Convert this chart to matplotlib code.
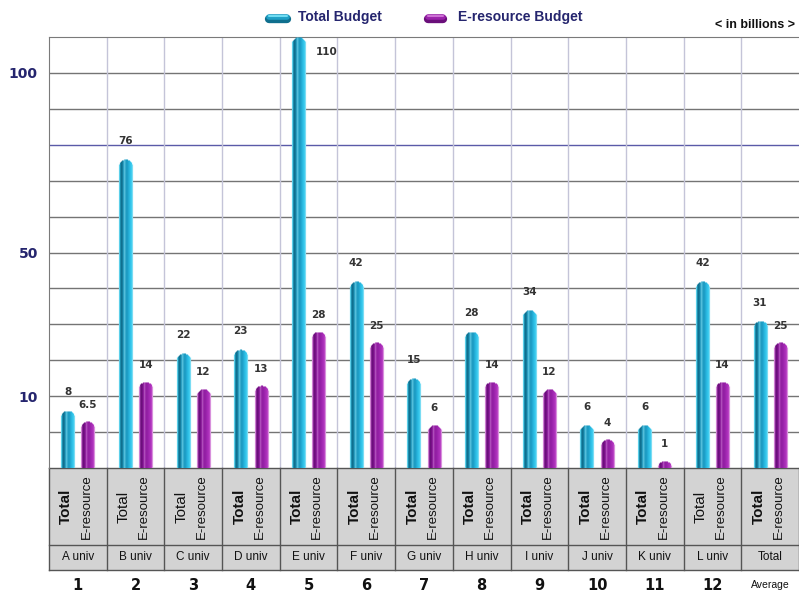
import numpy as np
import matplotlib
matplotlib.use('Agg')
import matplotlib.pyplot as plt
from matplotlib.transforms import ScaledTranslation, blended_transform_factory
from matplotlib.patches import Rectangle
from matplotlib.lines import Line2D

# Budgets per university (in billions)
universities = ['A univ', 'B univ', 'C univ', 'D univ', 'E univ', 'F univ', 'G univ',
                'H univ', 'I univ', 'J univ', 'K univ', 'L univ', 'Total']
group_numbers = ['1', '2', '3', '4', '5', '6', '7', '8', '9', '10', '11', '12', 'Average']
total_budget = [8, 76, 22, 23, 110, 42, 15, 28, 34, 6, 6, 42, 31]
eresource_budget = [6.5, 14, 12, 13, 28, 25, 6, 14, 12, 4, 1, 14, 25]
total_weights = ['bold', 'normal', 'normal', 'bold', 'bold', 'bold', 'bold',
                 'bold', 'bold', 'bold', 'bold', 'normal', 'bold']
ytick_values = [10, 50, 100]
grid_values = [5, 10, 20, 30, 40, 50, 60, 70, 80, 90, 100]

# shading across a bar, left to right (one entry per pixel column)
CYAN = ['#63d6ef', '#1e8fb0', '#0f6f8e', '#137a9a', '#2a9cc0', '#56c0dc', '#3aaed0',
        '#1f9cc2', '#1d9ec6', '#22a9d2', '#29b6de', '#31c2e8', '#3ccbee', '#7adcf3']
MAGENTA = ['#d68ad8', '#8a2a98', '#6a0f7a', '#760f86', '#8c1e9c', '#b050bc', '#a030ae',
           '#921fa2', '#9420a6', '#9c24ac', '#a42ab4', '#ac30ba', '#b63cc2', '#d890dc']

NAVY = '#25256e'
TABLE_FONT = ['Liberation Sans', 'DejaVu Sans']


# 0-10 stretched (5 per grid step), 10 per grid step above that
def forward(y):
    y = np.asarray(y, dtype=float)
    return np.where(y <= 10, y / 5, 2 + (y - 10) / 10)


def inverse(f):
    f = np.asarray(f, dtype=float)
    return np.where(f <= 2, f * 5, 10 + (f - 2) * 10)


def draw_cylinder(ax, x, value, colors):
    """Bar made of 1px columns with a rounded top."""
    fig = ax.figure
    dpi = fig.dpi
    r = len(colors) / 2
    for k, c in enumerate(colors):
        dx = (k + 0.5) - r
        drop = r - np.sqrt(max(r * r - dx * dx, 0))
        off = ScaledTranslation(dx / dpi, -drop / dpi, fig.dpi_scale_trans)
        ax.plot([x, x], [0, value], color=c, lw=0.85, solid_capstyle='butt',
                transform=ax.transData + off, zorder=3)


def legend_capsule(fig, x0, x1, y, dark, mid, light):
    W, H = fig.get_size_inches() * fig.dpi
    layers = [(y + 0.5, 6, dark), (y - 0.8, 4, mid), (y - 1.8, 1.5, light)]
    for yy, lw, c in layers:
        fig.add_artist(Line2D([x0 / W, x1 / W], [1 - yy / H] * 2, transform=fig.transFigure,
                              lw=lw, color=c, solid_capstyle='round'))


fig = plt.figure(figsize=(7.99, 5.92), dpi=100)
ax = fig.add_axes([49 / 799, 1 - 468 / 592, 750 / 799, 431 / 592])
ax.set_yscale('function', functions=(forward, inverse))
ax.set_ylim(0, 110)
ax.set_xlim(-0.5, len(universities) - 0.5)

# grid
for v in grid_values:
    ax.axhline(v, color='#5a5aa8' if v == 80 else '#747474', lw=1, zorder=1)
for b in range(1, len(universities)):
    ax.axvline(b - 0.5, color='#c4c4d8', lw=1, zorder=1)

offset = 0.175
for i in range(len(universities)):
    draw_cylinder(ax, i - offset, total_budget[i], CYAN)
    draw_cylinder(ax, i + offset, eresource_budget[i], MAGENTA)

    lab_kw = dict(textcoords='offset points', ha='center', va='center',
                  fontsize=7.5, fontweight='bold', color='#333333', zorder=4)
    if total_budget[i] >= 100:
        ax.annotate(f'{total_budget[i]:g}', (i - offset, total_budget[i]),
                    xytext=(20, -11), **lab_kw)
    else:
        ax.annotate(f'{total_budget[i]:g}', (i - offset, total_budget[i]),
                    xytext=(0, 13), **lab_kw)
    ax.annotate(f'{eresource_budget[i]:g}', (i + offset, eresource_budget[i]),
                xytext=(0, 12), **lab_kw)

ax.set_xticks([])
ax.set_yticks(ytick_values)
ax.set_yticklabels([str(v) for v in ytick_values], fontsize=10, fontweight='bold', color=NAVY)
ax.yaxis.set_minor_locator(matplotlib.ticker.NullLocator())
ax.tick_params(axis='y', length=0, pad=8)
for side in ['top', 'left']:
    ax.spines[side].set_color('#7a7a7a')
ax.spines['right'].set_visible(False)
ax.spines['bottom'].set_visible(False)

# table under the chart
row1 = -77 / 431
row2 = -102 / 431
ax.add_patch(Rectangle((0, row2), 1, -row2, transform=ax.transAxes,
                       facecolor='#d3d3d3', edgecolor='none', clip_on=False, zorder=0))
tr = blended_transform_factory(ax.transData, ax.transAxes)
for y in [0, row1, row2]:
    ax.plot([0, 1], [y, y], transform=ax.transAxes, color='#555555', lw=1, clip_on=False)
for b in range(len(universities) + 1):
    ax.plot([b - 0.5, b - 0.5], [row2, 0], transform=tr, color='#555555', lw=1, clip_on=False)

for i, name in enumerate(universities):
    ax.text(i - 0.2, row1 / 2, 'Total', transform=tr, rotation=90, ha='center', va='center',
            fontsize=11, fontweight=total_weights[i], family=TABLE_FONT, color='#111111')
    ax.text(i + 0.15, row1 / 2, 'E-resource', transform=tr, rotation=90, ha='center',
            va='center', fontsize=9.5, family=TABLE_FONT, color='#111111')
    ax.text(i, (row1 + row2) / 2, name, transform=tr, ha='center', va='center',
            fontsize=8.5, family=TABLE_FONT, color='#111111')
    if group_numbers[i].isdigit():
        ax.text(i, -117 / 431, group_numbers[i], transform=tr, ha='center', va='center',
                fontsize=10.5, fontweight='bold', color='#111111')
    else:
        ax.text(i, -117 / 431, group_numbers[i], transform=tr, ha='center', va='center',
                fontsize=7.5, family=TABLE_FONT, color='#111111')

# legend
legend_capsule(fig, 269, 287, 18, '#0f6f8e', '#1fa0c6', '#6fdcf2')
fig.text(298 / 799, 1 - 17 / 592, 'Total Budget', ha='left', va='center', fontsize=10,
         fontweight='bold', family=TABLE_FONT, color=NAVY)
legend_capsule(fig, 428, 443, 18, '#6a0f7a', '#9a22aa', '#cc70d4')
fig.text(458 / 799, 1 - 17 / 592, 'E-resource Budget', ha='left', va='center', fontsize=10,
         fontweight='bold', family=TABLE_FONT, color=NAVY)
fig.text(795 / 799, 1 - 25 / 592, '< in billions >', ha='right', va='center', fontsize=9,
         fontweight='bold', family=TABLE_FONT, color='#111111')

fig.savefig('out.png', dpi=100)
